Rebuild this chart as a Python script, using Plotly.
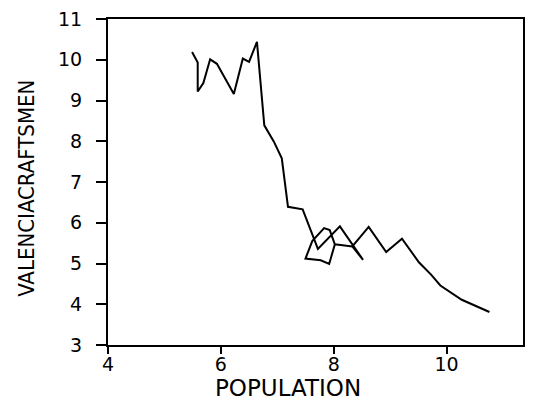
import plotly.graph_objects as go

population = [5.49, 5.59, 5.59, 5.69, 5.81, 5.93, 6.23, 6.39, 6.50, 6.64,
              6.77, 6.94, 7.08, 7.19, 7.45, 7.72, 8.11, 8.52, 8.33, 8.02,
              7.92, 7.77, 7.50, 7.62, 7.83, 7.93, 8.02, 8.33, 8.62, 8.93,
              9.21, 9.51, 9.73, 9.89, 10.27, 10.50, 10.76]
craftsmen = [10.19, 9.93, 9.22, 9.43, 10.01, 9.90, 9.16, 10.03, 9.95, 10.44,
             8.39, 7.99, 7.58, 6.39, 6.33, 5.36, 5.91, 5.09, 5.42, 5.47,
             4.99, 5.08, 5.12, 5.55, 5.87, 5.82, 5.47, 5.42, 5.90, 5.28,
             5.61, 5.03, 4.72, 4.46, 4.11, 3.96, 3.81]

x_ticks = [4, 6, 8, 10]
y_ticks = [3, 4, 5, 6, 7, 8, 9, 10, 11]

fig = go.Figure(go.Scatter(x=population, y=craftsmen, mode="lines",
                           line=dict(color="black", width=2), showlegend=False))

tick_font = dict(family="DejaVu Sans, Liberation Sans, Arial", size=19, color="black")

fig.update_layout(
    width=533, height=404,
    margin=dict(l=108, r=8, t=16, b=59),
    paper_bgcolor="white", plot_bgcolor="white",
    xaxis=dict(range=[4, 11.355], tickmode="array", tickvals=x_ticks, ticks="outside",
               ticklen=1, tickwidth=2, tickcolor="black",
               minor=dict(tickmode="array", tickvals=x_ticks, ticks="outside", ticklen=7,
                          tickwidth=2, tickcolor="black", showgrid=False),
               showline=True, linecolor="black",
               linewidth=2, mirror=True, showgrid=False, zeroline=False,
               tickfont=tick_font, ticklabelstandoff=0),
    yaxis=dict(range=[3, 11], tickvals=y_ticks, ticks="outside", ticklen=10,
               tickwidth=2, tickcolor="black", showline=True, linecolor="black",
               linewidth=2, mirror=True, showgrid=False, zeroline=False,
               tickfont=tick_font, ticklabelstandoff=10),
    annotations=[
        dict(text="POPULATION", xref="paper", yref="paper", x=0.434, y=-0.178,
             xanchor="center", yanchor="bottom", showarrow=False,
             font=dict(family="DejaVu Sans, Liberation Sans, Arial", size=23, color="black")),
        dict(text="VALENCIACRAFTSMEN", xref="paper", yref="paper", x=-0.197, y=0.48,
             xanchor="center", yanchor="middle", showarrow=False, textangle=-90,
             font=dict(family="Liberation Sans Narrow, DejaVu Sans Condensed, Liberation Sans",
                       size=22, color="black")),
    ],
)

fig.write_html("out.html", config={"displayModeBar": False},
               post_script="document.body.style.margin='0';document.body.style.overflow='hidden';")
